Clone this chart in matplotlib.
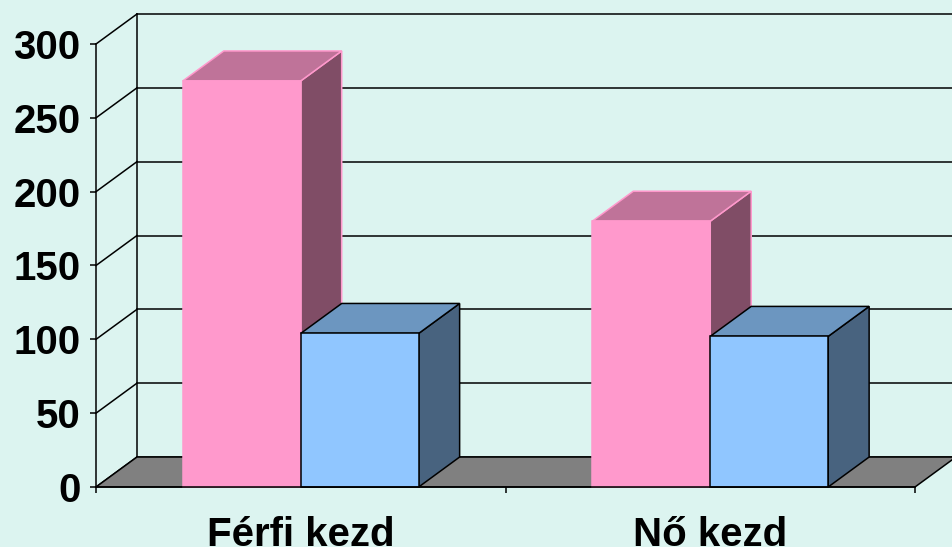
import matplotlib
matplotlib.use("Agg")
import matplotlib.pyplot as plt
from matplotlib.patches import Polygon

# Data
categories = ["Férfi kezd", "Nő kezd"]
pink_values = [275, 180]
blue_values = [104, 102]
yticks = [0, 50, 100, 150, 200, 250, 300]

# Style
bg = "#DCF4F0"
pink = ("#FF99CC", "#BF7399", "#804D66")   # front, top, side
blue = ("#90C6FF", "#6C96C0", "#48637F")
floor_col = "#808080"
bar_w = 0.288
ddx, ddy = 0.1, 20.3   # depth offset of the 3D walls (x units, value units)

plt.rcParams["font.family"] = ["Liberation Sans", "DejaVu Sans"]
plt.rcParams["font.weight"] = "bold"

fig = plt.figure(figsize=(9.52, 5.47), dpi=100, facecolor=bg)
ax = fig.add_axes([96 / 952, 60 / 547, 819 / 952, 443 / 547])
ax.set_facecolor("none")
ax.set_xlim(0, len(categories))
ax.set_ylim(0, 300)

lw = 1.1
# back wall grid + left wall diagonals
n = len(categories)
for v in yticks:
    ax.plot([ddx, n + ddx], [v + ddy, v + ddy], color="black", lw=lw, clip_on=False, zorder=1)
    ax.plot([0, ddx], [v, v + ddy], color="black", lw=lw, clip_on=False, zorder=1)
ax.plot([ddx, ddx], [ddy, 300 + ddy], color="black", lw=lw, clip_on=False, zorder=1)

# floor
ax.add_patch(Polygon([(0, 0), (n, 0), (n + ddx, ddy), (ddx, ddy)], closed=True,
                     facecolor=floor_col, edgecolor="black", lw=lw, clip_on=False, zorder=2))


def bar3d(x0, h, cols, ec, z):
    front, top, side = cols
    ax.add_patch(Polygon([(x0 + bar_w, 0), (x0 + bar_w + ddx, ddy), (x0 + bar_w + ddx, h + ddy), (x0 + bar_w, h)],
                         facecolor=side, edgecolor=ec, lw=lw, clip_on=False, zorder=z))
    ax.add_patch(Polygon([(x0, h), (x0 + bar_w, h), (x0 + bar_w + ddx, h + ddy), (x0 + ddx, h + ddy)],
                         facecolor=top, edgecolor=ec, lw=lw, clip_on=False, zorder=z))
    ax.add_patch(Polygon([(x0, 0), (x0 + bar_w, 0), (x0 + bar_w, h), (x0, h)],
                         facecolor=front, edgecolor=ec, lw=lw, clip_on=False, zorder=z))


for i in range(n):
    c = i + 0.5
    bar3d(c - bar_w, pink_values[i], pink, pink[0], 3 + 2 * i)
    bar3d(c, blue_values[i], blue, "black", 4 + 2 * i)

for s in ["top", "right"]:
    ax.spines[s].set_visible(False)
for s in ["left", "bottom"]:
    ax.spines[s].set_linewidth(lw)
    ax.spines[s].set_zorder(10)

ax.set_yticks(yticks)
ax.set_yticklabels([str(v) for v in yticks])
ax.tick_params(axis="y", direction="out", length=4.3, width=lw, pad=7, labelsize=29)
ax.set_xticks(range(n + 1))
ax.set_xticklabels([])
ax.tick_params(axis="x", which="major", direction="out", length=4.3, width=lw)
ax.set_xticks([i + 0.5 for i in range(n)], minor=True)
ax.set_xticklabels(categories, minor=True)
ax.tick_params(axis="x", which="minor", length=0, pad=21, labelsize=29)

fig.savefig("out.png", dpi=100, facecolor=bg)
